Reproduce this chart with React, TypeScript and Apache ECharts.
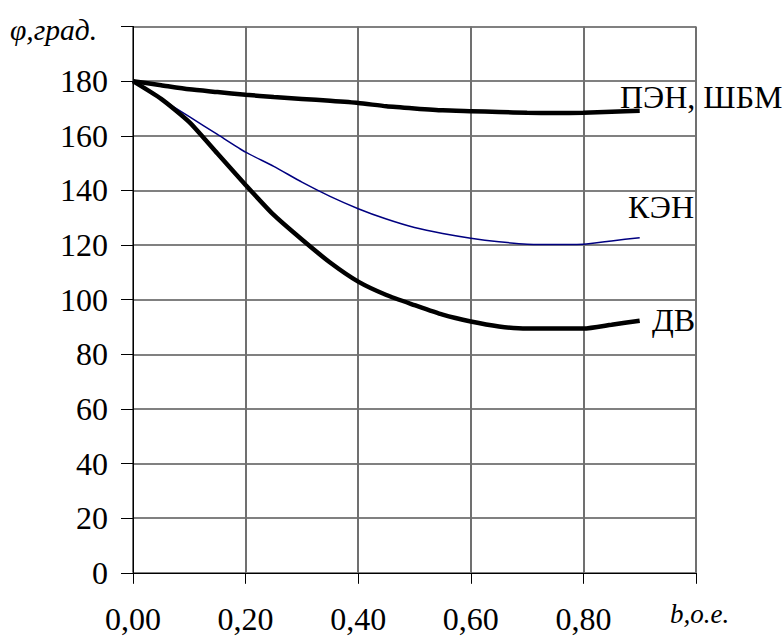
import React, { useEffect, useRef } from "react";
import * as echarts from "echarts";

const xValues = [0, 0.05, 0.1, 0.15, 0.2, 0.25, 0.3, 0.35, 0.4, 0.45, 0.5, 0.55, 0.6, 0.65, 0.7, 0.75, 0.8, 0.85, 0.9];
const penValues = [180, 178.5, 177, 176, 175, 174.2, 173.5, 172.8, 172, 170.8, 170, 169.3, 169, 168.7, 168.4, 168.3, 168.4, 168.8, 169.2];
const kenValues = [180, 173.5, 167, 160.5, 154, 148.8, 143, 137.8, 133.3, 129.5, 126.4, 124.2, 122.5, 121.2, 120.3, 120.2, 120.3, 121.5, 122.7];
const dvValues = [180, 173.5, 165, 153.5, 142, 131, 122, 113.6, 106.6, 101.7, 98, 94.5, 92, 90.2, 89.4, 89.4, 89.4, 90.8, 92.3];

const seriesNames = ["ПЭН, ШБМ", "КЭН", "ДВ"];
const yAxisTitle = "φ,град.";
const xAxisTitle = "b,o.e.";

const FONT = "Liberation Serif, Times New Roman, serif";

export default function App() {
  const ref = useRef<HTMLDivElement>(null);
  useEffect(() => {
    if (!ref.current) return;
    const chart = echarts.init(ref.current, null, { renderer: "svg" });
    const toData = (vals: number[]) => xValues.map((x, i) => [x, vals[i]]);
    const txt = (text: string, x: number, y: number, size: number, italic: boolean, align: string) => ({
      type: "text",
      x,
      y,
      style: {
        text,
        fontFamily: FONT,
        fontSize: size,
        fontStyle: italic ? "italic" : "normal",
        fill: "#000",
        align,
        verticalAlign: "middle",
      },
    });
    chart.setOption({
      animation: false,
      backgroundColor: "#ffffff",
      textStyle: { fontFamily: FONT },
      grid: { left: 133, right: 87, top: 26.5, bottom: 64.2, containLabel: false },
      xAxis: {
        type: "value",
        min: 0,
        max: 1,
        interval: 0.2,
        axisLine: { show: true, lineStyle: { color: "#000", width: 1 } },
        axisTick: { show: true, inside: false, length: 11, lineStyle: { color: "#000", width: 1 } },
        axisLabel: {
          margin: 30,
          fontFamily: FONT,
          fontSize: 32,
          color: "#000",
          formatter: (v: number) => (v >= 0.999 ? "" : v.toFixed(2).replace(".", ",")),
        },
        splitLine: { show: true, lineStyle: { color: "#707070", width: 2 } },
      },
      yAxis: {
        type: "value",
        min: 0,
        max: 200,
        interval: 20,
        axisLine: { show: true, lineStyle: { color: "#000", width: 1 } },
        axisTick: { show: true, inside: false, length: 12, lineStyle: { color: "#000", width: 1 } },
        axisLabel: {
          margin: 25,
          fontFamily: FONT,
          fontSize: 32,
          color: "#000",
          formatter: (v: number) => (v >= 200 ? "" : String(v)),
        },
        splitLine: { show: true, lineStyle: { color: "#808080", width: 2 } },
      },
      series: [
        {
          name: seriesNames[0],
          type: "line",
          data: toData(penValues),
          showSymbol: false,
          smooth: 0.2,
          lineStyle: { color: "#000", width: 4.5 },
        },
        {
          name: seriesNames[1],
          type: "line",
          data: toData(kenValues),
          showSymbol: false,
          smooth: 0.2,
          lineStyle: { color: "#000080", width: 1.5 },
        },
        {
          name: seriesNames[2],
          type: "line",
          data: toData(dvValues),
          showSymbol: false,
          smooth: 0.2,
          lineStyle: { color: "#000", width: 4.5 },
        },
      ],
      graphic: [
        txt(yAxisTitle, 10, 30, 29.5, true, "left"),
        txt(xAxisTitle, 670, 614, 27, true, "left"),
        txt(seriesNames[0], 620, 97, 32, false, "left"),
        txt(seriesNames[1], 694, 207, 32, false, "right"),
        txt(seriesNames[2], 652, 320, 32, false, "left"),
      ],
    });
    return () => chart.dispose();
  }, []);
  return (
    <div
      ref={ref}
      style={{ position: "fixed", left: 0, top: 0, width: 783, height: 637, background: "#fff" }}
    />
  );
}
